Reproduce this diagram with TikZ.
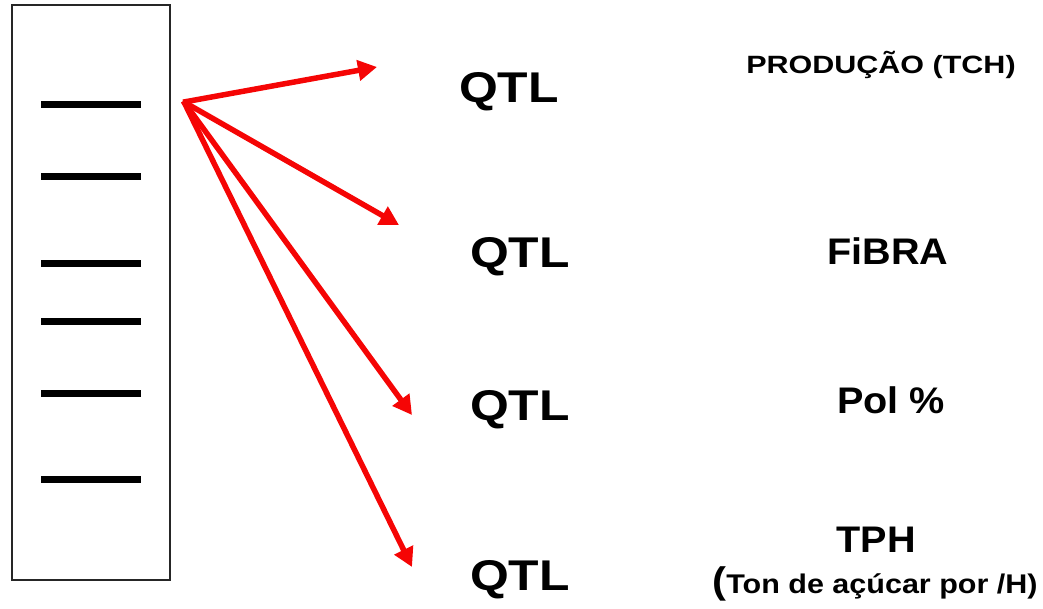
\documentclass[tikz,border=0pt]{standalone}
\usepackage{fontspec}
\setmainfont{Liberation Sans}
\usetikzlibrary{arrows.meta}
\definecolor{arrowred}{RGB}{245,5,5}
\tikzset{
  gel/.style={draw=black!85, line width=2pt},
  band/.style={line width=7pt, black},
  link/.style={arrowred, line width=5.5pt, -{Triangle[length=19pt,width=20pt]}},
  qtl/.style={font=\bfseries\fontsize{43}{43}\selectfont, anchor=base, xscale=1.16, inner sep=0pt},
  trait/.style={font=\bfseries\fontsize{37}{37}\selectfont, anchor=base, xscale=1.07, inner sep=0pt},
  small/.style={font=\bfseries\fontsize{25}{25}\selectfont, anchor=base, xscale=1.22, inner sep=0pt}
}
\begin{document}
\begin{tikzpicture}[x=1pt, y=-1pt]
  \useasboundingbox (0,0) rectangle (1043,609);
  % gel lane with bands
  \draw[gel] (12,5) rectangle (170,580);
  \foreach \y [count=\i] in {105,177,264,321,393,479}
    \draw[band] (41,\y) -- (141,\y);
  % markers and their targets
  \coordinate (src) at (184,102);
  \coordinate (t1) at (377,67);
  \coordinate (t2) at (399,225);
  \coordinate (t3) at (412,415);
  \coordinate (t4) at (412,567);
  \foreach \t in {t1,t2,t3,t4}
    \draw[link, shorten <=-1pt] (src) -- (\t);
  % QTL labels
  \node[qtl] (q1) at (509,103) {QTL};
  \node[qtl] (q2) at (520,268) {QTL};
  \node[qtl] (q3) at (520,420) {QTL};
  \node[qtl] (q4) at (520,590) {QTL};
  % trait labels
  \node[small] (p1) at (881,74) {PRODUÇÃO (TCH)};
  \node[trait] (p2) at (888,265) {FiBRA};
  \node[trait] (p3) at (891,413) {Pol \%};
  \node[trait] (p4) at (876,552) {TPH};
  \node[anchor=base, inner sep=0pt, xscale=1.13, font=\bfseries\fontsize{27}{27}\selectfont] (p5) at (875,593)
    {{\fontsize{37}{37}\selectfont(}Ton de açúcar por /H)};
\end{tikzpicture}
\end{document}
